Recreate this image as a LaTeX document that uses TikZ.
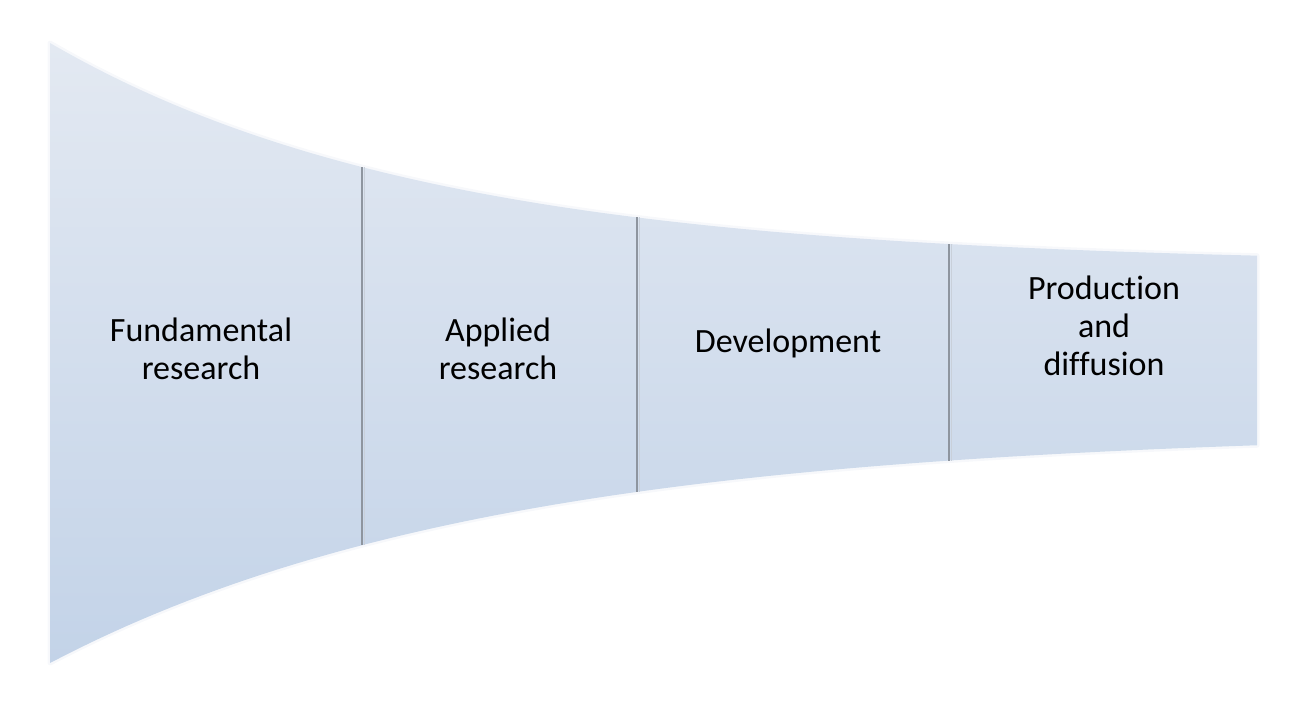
\documentclass[tikz,border=0pt]{standalone}
\usepackage{fontspec}
\setmainfont{Carlito}[Ligatures=NoCommon]
\definecolor{funnelTop}{HTML}{E3E9F2}
\definecolor{funnelBot}{HTML}{C3D3E8}
\definecolor{divDark}{HTML}{8E959F}
\definecolor{divLight}{HTML}{C9D0DA}
% upper and lower rims of the funnel
\pgfmathdeclarefunction{rimtop}{1}{\pgfmathparse{265-222*exp(-0.002624*(#1-50))}}
\pgfmathdeclarefunction{rimbot}{1}{\pgfmathparse{430+233*exp(-0.002263*(#1-50))}}
\begin{document}
\begin{tikzpicture}[x=1pt,y=-1pt,
  stagelabel/.style={font=\fontsize{34}{38}\selectfont, align=center, text=black},
  divider/.style={line width=1.6pt, draw=divDark},
  dividerhi/.style={line width=1.2pt, draw=divLight}]
\useasboundingbox (0,0) rectangle (1291,706);
% funnel body with a soft rim
\def\funnel{plot[domain=50:1257,samples=80] (\x,{rimtop(\x)})
  -- plot[domain=1257:50,samples=80] (\x,{rimbot(\x)}) -- cycle}
\draw[funnelTop, line width=5pt, opacity=0.3, line join=round] \funnel;
\shade[top color=funnelTop, bottom color=funnelBot] \funnel;
% stage dividers
\foreach \x in {362,637,949}{
  \pgfmathsetmacro{\ya}{rimtop(\x)}
  \pgfmathsetmacro{\yb}{rimbot(\x)}
  \draw[dividerhi] (\x+2.2,\ya) -- (\x+2.2,\yb);
  \draw[divider] (\x,\ya) -- (\x,\yb);
}
% stage labels
\node[stagelabel] (fund) at (201,349) {Fundamental\\research};
\node[stagelabel] (appl) at (498,349) {Applied\\research};
\node[stagelabel] (dev) at (788,343) {Development};
\node[stagelabel] (prod) at (1104,326) {Production\\and\\diffusion};
\end{tikzpicture}
\end{document}
